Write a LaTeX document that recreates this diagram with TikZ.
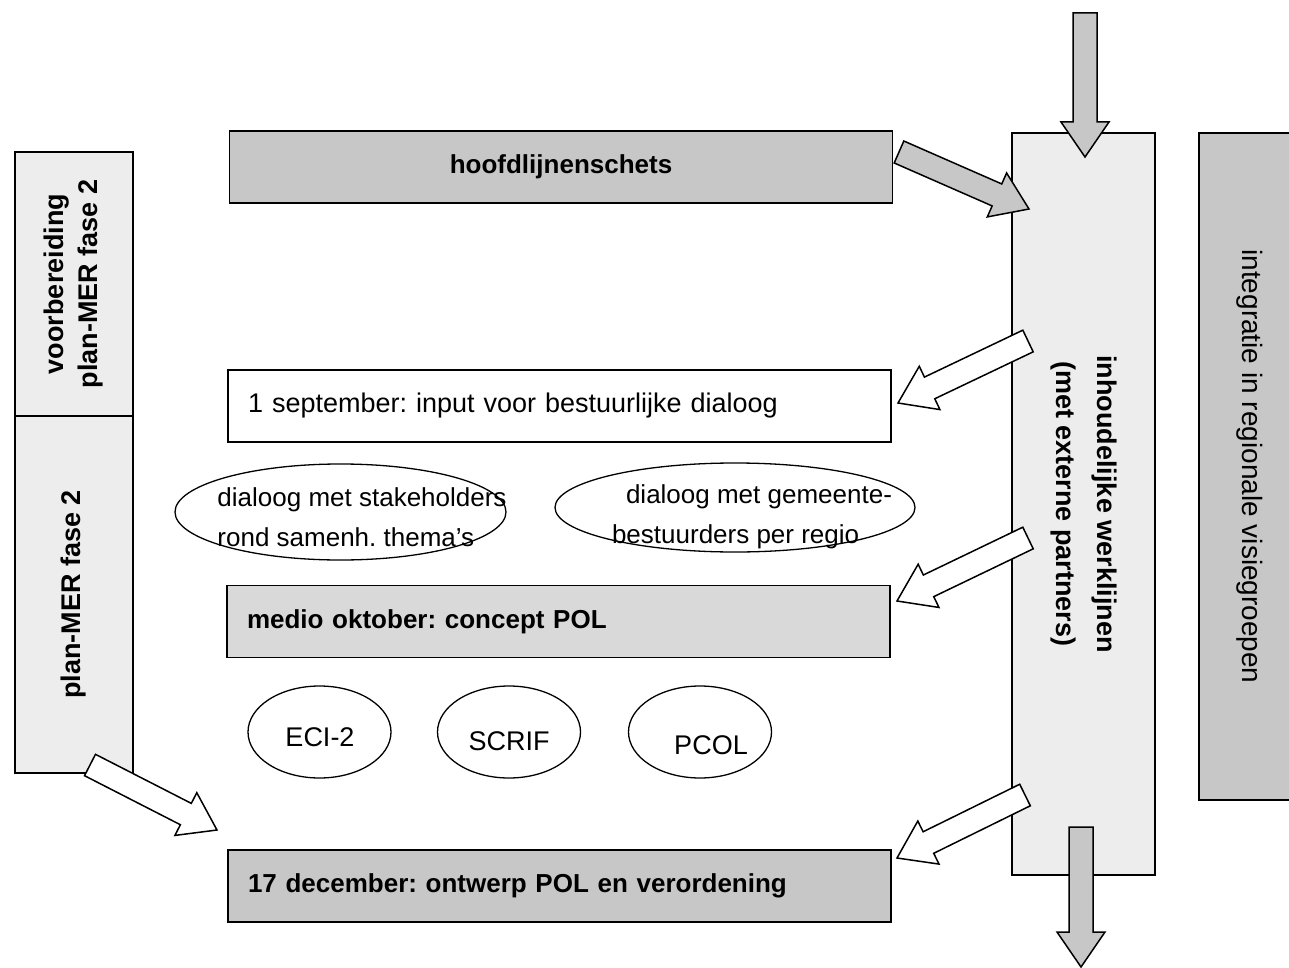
\documentclass[tikz,border=0pt]{standalone}
\usepackage{fontspec}
\setmainfont{Liberation Sans}
\usetikzlibrary{positioning, shapes.geometric, calc}
\frenchspacing

\definecolor{boxdark}{gray}{0.78}
\definecolor{boxmid}{gray}{0.85}
\definecolor{boxpale}{gray}{0.93}
\definecolor{arrowgray}{gray}{0.78}

% fat arrow between two named points: [fill]{from}{to}
\newcommand{\blockarrow}[3][white]{%
  \draw[bigarrow, fill=#1] let \p1=($(#3)-(#2)$), \n1={atan2(\y1,\x1)}, \n2={veclen(\x1,\y1)} in
    [shift={(#2)}, rotate=\n1]
    (0pt,12pt) -- ({\n2-35pt},12pt) -- ({\n2-35pt},24pt) -- ({\n2},0pt)
    -- ({\n2-35pt},-24pt) -- ({\n2-35pt},-12pt) -- (0pt,-12pt) -- cycle;
}

\begin{document}
\begin{tikzpicture}[
		x=1pt, y=-1pt,
		every node/.style={inner sep=0pt, font=\fontsize{27}{40}\selectfont},
		box/.style={draw, rectangle, line width=1.5pt, minimum width=663, minimum height=72, text width=623, align=left},
		boldtext/.style={font=\fontsize{26}{40}\selectfont\bfseries},
		column/.style={draw, rectangle, line width=1.5pt, fill=boxpale, align=center, boldtext},
		talk/.style={draw, ellipse, line width=1.3pt},
		bigarrow/.style={draw, line width=1.5pt, line join=miter},
		]
		\clip (0,0) rectangle (1289,968);
		% Diagram drawing
		\node[column, rotate=90, minimum width=264, minimum height=118, font=\fontsize{27}{34}\selectfont\bfseries] at (74,284) (prep) {voorbereiding\\plan-MER fase 2};
		\node[column, rotate=90, minimum width=357, minimum height=118, font=\fontsize{27}{34}\selectfont\bfseries] at (74,594.5) (planmer) {plan-MER fase 2};
		
		\node[column, rotate=-90, minimum width=742, minimum height=143, font=\fontsize{27}{41}\selectfont\bfseries] at (1083.5,504) (werk) {inhoudelijke werklijnen\\(met externe partners)};
		\node[draw, rectangle, line width=1.5pt, fill=boxdark, rotate=-90, minimum width=667, minimum height=102, font=\fontsize{28}{40}\selectfont] at (1250,466.5) (regio) {integratie in regionale visiegroepen};
		
		\node[box, fill=boxdark, align=center, boldtext] at (561,167) (hoofd) {hoofdlijnenschets};
		\node[box, fill=white] at (559.5,406) (sept) {1 september: input voor bestuurlijke dialoog};
		\node[box, fill=boxmid, boldtext] at (558.5,621.5) (okt) {medio oktober: concept POL};
		\node[box, fill=boxdark, boldtext] at (559.5,886) (dec) {17 december: ontwerp POL en verordening};
		
		\node[talk, minimum width=331, minimum height=96] at (340.5,512) (stake) {};
		\node[align=left, font=\fontsize{26}{40}\selectfont] at (362,517) (staketxt) {dialoog met stakeholders\\rond samenh. thema's};
		\node[talk, minimum width=360, minimum height=89] at (735,507.5) (gem) {};
		\node[align=left, font=\fontsize{26}{40}\selectfont] at (752,517) (gemtxt) {\hspace*{14pt}dialoog met gemeente-\\bestuurders per regio};
		
		\node[talk, minimum width=143, minimum height=92] at (319.5,732) (eci) {};
		\node[talk, minimum width=143, minimum height=92] at (509,732) (scrif) {};
		\node[talk, minimum width=143, minimum height=92] at (700,732) (pcol) {};
		\node at (320,737) (ecitxt) {ECI-2};
		\node at (509,741) (scriftxt) {SCRIF};
		\node at (711,745) (pcoltxt) {PCOL};
		
		% arrow ends
		\coordinate (top-in) at (1085,13);
		\coordinate (top-tip) at (1085,157);
		\coordinate (hoofd-out) at (899,152);
		\coordinate (werk-in) at (1029,209);
		\coordinate (werk-out1) at (1028,341);
		\coordinate (sept-in) at (898,403);
		\coordinate (werk-out2) at (1028,538);
		\coordinate (okt-in) at (897,601);
		\coordinate (werk-out3) at (1025,795);
		\coordinate (dec-in) at (897,858);
		\coordinate (plan-out) at (90,765);
		\coordinate (dec-in2) at (217,830);
		\coordinate (werk-down) at (1081,827);
		\coordinate (bottom-tip) at (1081,967);
		
		% draw arrows
		\blockarrow[arrowgray]{top-in}{top-tip}
		\blockarrow[arrowgray]{hoofd-out}{werk-in}
		\blockarrow{werk-out1}{sept-in}
		\blockarrow{werk-out2}{okt-in}
		\blockarrow{werk-out3}{dec-in}
		\blockarrow{plan-out}{dec-in2}
		\blockarrow[arrowgray]{werk-down}{bottom-tip}
\end{tikzpicture}
\end{document}
